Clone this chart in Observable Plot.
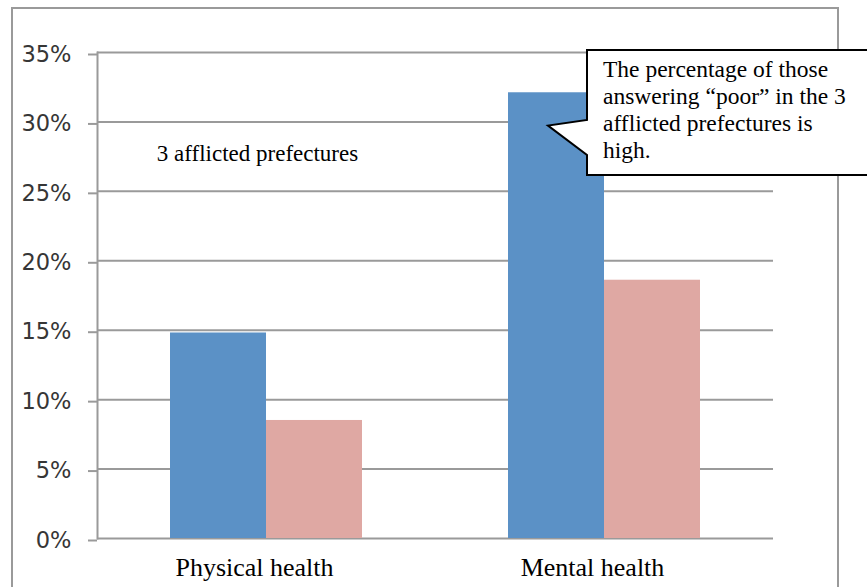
<!DOCTYPE html>
<html>
<head>
<meta charset="utf-8">
<script src="https://cdn.jsdelivr.net/npm/d3@7"></script>
<script src="https://cdn.jsdelivr.net/npm/@observablehq/plot@0.6"></script>
<style>
  html, body { margin: 0; padding: 0; background: #fff; overflow: hidden; }
  #chart svg { display: block; }
</style>
</head>
<body>
<div id="chart"></div>
<script>
// Share answering "poor" for self-rated health
const categories = ["Physical health", "Mental health"];
const series = ["3 afflicted prefectures", "Other prefectures"];
const afflictedValues = [0.148, 0.321];
const otherValues = [0.085, 0.186];
const yTicks = [0, 0.05, 0.10, 0.15, 0.20, 0.25, 0.30, 0.35];
const seriesColors = ["#5b91c6", "#dfa8a3"];
const calloutLines = [
  "The percentage of those",
  "answering \u201Cpoor\u201D in the 3",
  "afflicted prefectures is",
  "high."
];

const rows = categories.flatMap((c, i) => [
  {category: c, series: series[0], value: afflictedValues[i]},
  {category: c, series: series[1], value: otherValues[i]}
]);

const serif = "'Liberation Serif', 'Times New Roman', serif";
const gridColor = "#9a9a9a";

const plot = Plot.plot({
  width: 867,
  height: 587,
  marginTop: 52,
  marginBottom: 49,
  marginLeft: 96,
  marginRight: 94,
  style: {background: "transparent", overflow: "visible"},
  fx: {domain: categories, padding: 0, label: null, axis: null},
  x: {domain: series, paddingInner: 0, paddingOuter: 0.754, axis: null},
  y: {domain: [0, 0.35], axis: null},
  color: {domain: series, range: seriesColors},
  marks: [
    Plot.gridY(yTicks, {stroke: gridColor, strokeOpacity: 1, strokeWidth: 2}),
    Plot.frame({anchor: "left", facetAnchor: "left", stroke: gridColor, strokeWidth: 2}),
    Plot.axisY(yTicks, {
      tickSize: 9, tickPadding: 17, tickFormat: d3.format(".0%"),
      stroke: gridColor, strokeWidth: 2, fill: "#363636",
      fontSize: 22.5, fontFamily: "'DejaVu Sans', sans-serif",
      dy: 2, label: null
    }),
    Plot.barY(rows, {fx: "category", x: "series", y: "value", fill: "series"}),
    Plot.axisFx({
      anchor: "bottom", tickSize: 0, tickPadding: 18, dx: -12, dy: 1,
      fontSize: 26, fontFamily: serif, fill: "#000", label: null
    }),
    Plot.text([series[0]], {
      fx: [categories[0]], y: [0.277], text: d => d,
      frameAnchor: "middle", dx: -9,
      fontSize: 23, fontFamily: serif, fill: "#000"
    })
  ]
});

document.getElementById("chart").appendChild(plot);

const svg = d3.select(plot);

// outer chart border
svg.insert("rect", ":first-child")
  .attr("x", 12).attr("y", 8)
  .attr("width", 826).attr("height", 620)
  .attr("fill", "none")
  .attr("stroke", gridColor)
  .attr("stroke-width", 2);

// speech-bubble callout pointing at the afflicted mental-health bar
const yScale = plot.scale("y");
const tipY = yScale.apply(0.297);
const box = {x0: 587, x1: 900, y0: 50, y1: 175, baseTop: 120, baseBottom: 155, tipX: 548};
const callout = svg.append("g");
callout.append("path")
  .attr("d", `M${box.x0},${box.y0}H${box.x1}V${box.y1}H${box.x0}V${box.baseBottom}L${box.tipX},${tipY}L${box.x0},${box.baseTop}Z`)
  .attr("fill", "#fff")
  .attr("stroke", "#000")
  .attr("stroke-width", 2)
  .attr("stroke-linejoin", "miter");
callout.append("text")
  .attr("font-family", serif)
  .attr("font-size", 23.5)
  .attr("fill", "#000")
  .attr("text-anchor", "start")
  .selectAll("tspan")
  .data(calloutLines)
  .join("tspan")
  .attr("x", 603)
  .attr("y", (d, i) => 77 + i * 27)
  .text(d => d);
</script>
</body>
</html>
